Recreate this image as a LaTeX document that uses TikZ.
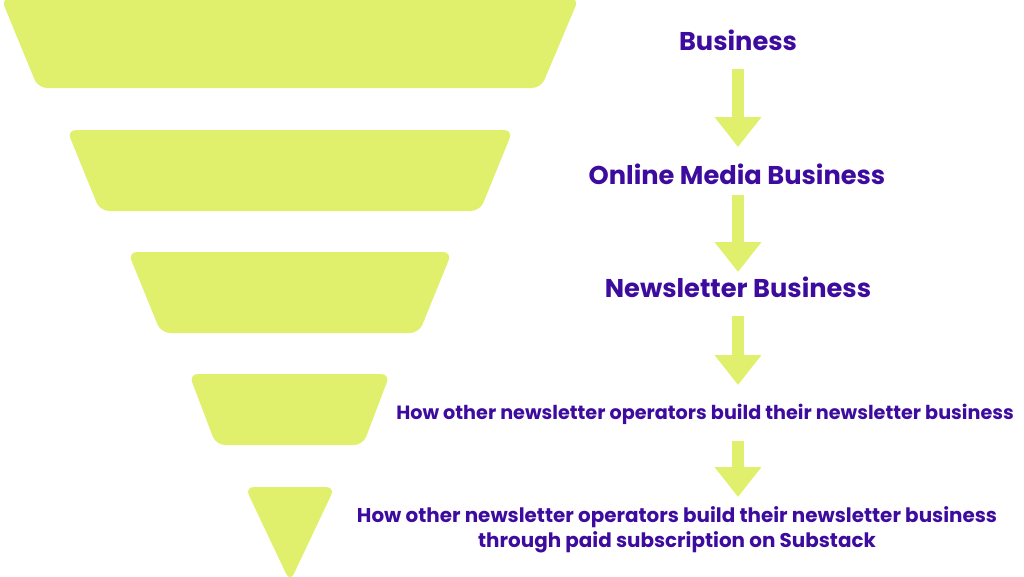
\documentclass[tikz,border=0pt]{standalone}
\usepackage{fontspec}
\setmainfont{Poppins}
\usetikzlibrary{arrows.meta}
\definecolor{lime}{HTML}{E0F06C}
\definecolor{ink}{HTML}{3D0C9E}
\begin{document}
\begin{tikzpicture}[x=1pt,y=-1pt,
  funnel/.style={fill=lime,rounded corners=9pt},
  head/.style={text=ink,font=\fontsize{25.7}{30}\selectfont\bfseries,inner sep=0pt,anchor=base},
  small/.style={text=ink,font=\fontsize{19.2}{22}\selectfont\bfseries,inner sep=0pt,anchor=base},
  two/.style={text=ink,font=\fontsize{19.9}{25}\selectfont\bfseries,inner sep=0pt,anchor=base,align=center},
  arr/.style={draw=lime,line width=12pt,-{Triangle[width=45pt,length=30pt]}}]
\useasboundingbox (0,0) rectangle (1024,576);
\begin{scope}
\clip (0,0) rectangle (1024,576);
\fill[funnel] (1,-2) -- (579,-2) -- (541,88) -- (38,88) -- cycle;
\fill[funnel] (67,130) -- (513,130) -- (480,211) -- (100,211) -- cycle;
\fill[funnel] (128,252) -- (452,252) -- (419,333) -- (161,333) -- cycle;
\fill[funnel] (189,374) -- (390,374) -- (363,445) -- (216,445) -- cycle;
\fill[funnel] (245,487) -- (335,487) -- (290,582) -- cycle;
\end{scope}
\node[head] (t1) at (738,50) {Business};
\node[head] (t2) at (737,184) {Online Media Business};
\node[head] (t3) at (738,297) {Newsletter Business};
\node[small] (t4) at (705,419) {How other newsletter operators build their newsletter business};
\node[two] (t5) at (677,547) {How other newsletter operators build their newsletter business\\through paid subscription on Substack};
\draw[arr,shorten <=19pt,shorten >=37pt] (t1.base) -- (t1.base |- t2.base);
\draw[arr,shorten <=11pt,shorten >=25pt] (t1.base |- t2.base) -- (t1.base |- t3.base);
\draw[arr,shorten <=19pt,shorten >=34pt] (t1.base |- t3.base) -- (t1.base |- t4.base);
\draw[arr,shorten <=22pt,shorten >=50pt] (t1.base |- t4.base) -- (t1.base |- t5.base);
\end{tikzpicture}
\end{document}
